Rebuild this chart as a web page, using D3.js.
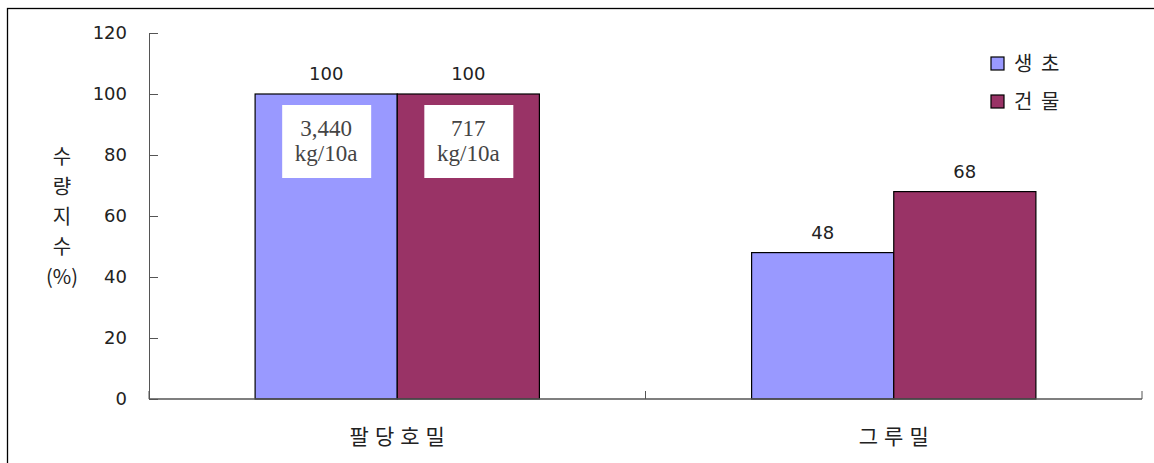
<!DOCTYPE html>
<html><head><meta charset="utf-8">
<script src="https://cdn.jsdelivr.net/npm/d3@7/dist/d3.min.js"></script>
<style>body{margin:0;background:#fff}svg{display:block}</style>
</head><body><svg id="c" width="1154" height="463"></svg>
<script>
const categories = ["팔당호밀", "그루밀"];
const seriesNames = ["생 초", "건 물"];
const freshValues = [100, 48];
const dryValues = [100, 68];
const yTicks = [0, 20, 40, 60, 80, 100, 120];
const baseNotes = [["3,440", "kg/10a"], ["717", "kg/10a"]];
const yLabelLines = ["수", "량", "지", "수", "(%)"];
const colors = ["#9999FF", "#993366"];

const svg = d3.select("#c");
const font = "'Noto Sans CJK KR', 'DejaVu Sans', sans-serif";
const numFont = "'DejaVu Sans', sans-serif";
const m = {l: 149, r: 1142, t: 33, b: 399};

svg.append("rect").attr("x", 7.5).attr("y", 8.5).attr("width", 1160).attr("height", 470)
  .attr("fill", "none").attr("stroke", "#000").attr("stroke-width", 1.3);

const y = d3.scaleLinear().domain([0, 120]).range([m.b, m.t]);
const x0 = d3.scaleBand().domain(categories).range([m.l, m.r]).padding(0);
const x1 = d3.scaleBand().domain(seriesNames).range([x0.bandwidth() * 0.2137, x0.bandwidth() * 0.7863]).padding(0);

const data = categories.map((c, i) => ({c, vals: [freshValues[i], dryValues[i]]}));

// y axis
const ya = svg.append("g").attr("transform", `translate(${m.l},0)`)
  .call(d3.axisRight(y).tickValues(yTicks).tickSize(9).tickFormat(""));
ya.select(".domain").attr("stroke", "#555");
ya.selectAll(".tick line").attr("stroke", "#555");
svg.append("g").selectAll("text").data(yTicks).join("text")
  .attr("x", 127).attr("y", d => y(d)).attr("dy", "0.36em").attr("text-anchor", "end")
  .attr("font-family", numFont).attr("font-size", 18).attr("fill", "#222").text(d => d);

// bars
const g = svg.append("g");
data.forEach(d => {
  const gx = x0(d.c);
  g.selectAll(null).data(d.vals).join("rect")
    .attr("x", (v, j) => gx + x1(seriesNames[j]))
    .attr("y", v => y(v)).attr("width", x1.bandwidth())
    .attr("height", v => m.b - y(v))
    .attr("fill", (v, j) => colors[j]).attr("stroke", "#000").attr("stroke-width", 1.2);
  g.selectAll(null).data(d.vals).join("text")
    .attr("x", (v, j) => gx + x1(seriesNames[j]) + x1.bandwidth() / 2)
    .attr("y", v => y(v) - 14).attr("text-anchor", "middle")
    .attr("font-family", numFont).attr("font-size", 18).attr("fill", "#222").text(v => v);
});

// notes in first group
baseNotes.forEach((lines, j) => {
  const cx = x0(categories[0]) + x1(seriesNames[j]) + x1.bandwidth() / 2;
  svg.append("rect").attr("x", cx - 44).attr("y", y(100) + 11).attr("width", 89).attr("height", 73).attr("fill", "#fff");
  lines.forEach((t, k) => {
    svg.append("text").attr("x", cx).attr("y", y(100) + 42 + k * 25).attr("text-anchor", "middle")
      .attr("font-family", "'Liberation Serif', serif").attr("font-size", 23).attr("fill", "#444").text(t);
  });
});

// x axis
svg.append("line").attr("x1", m.l).attr("x2", m.r).attr("y1", m.b).attr("y2", m.b).attr("stroke", "#555").attr("stroke-width", 1.3);
svg.append("g").selectAll("line").data([...categories.map(c => x0(c)), m.r]).join("line")
  .attr("x1", d => d).attr("x2", d => d).attr("y1", m.b).attr("y2", m.b - 8).attr("stroke", "#555");
svg.append("g").selectAll("text").data(categories).join("text")
  .attr("x", d => x0(d) + x0.bandwidth() / 2 + 3).attr("y", 444).attr("text-anchor", "middle")
  .attr("font-family", font).attr("font-size", 21).attr("letter-spacing", "6px").attr("fill", "#222").text(d => d);

// y label
svg.append("g").selectAll("text").data(yLabelLines).join("text")
  .attr("x", 62).attr("y", (d, i) => 164 + i * 30).attr("text-anchor", "middle")
  .attr("font-family", font).attr("font-size", 20).attr("fill", "#222").text(d => d);

// legend
const lg = svg.append("g");
seriesNames.forEach((s, i) => {
  lg.append("rect").attr("x", 991).attr("y", 57 + i * 38).attr("width", 13).attr("height", 13)
    .attr("fill", colors[i]).attr("stroke", "#000").attr("stroke-width", 1.2);
  lg.append("text").attr("x", 1014).attr("y", 64 + i * 38).attr("dy", "0.36em")
    .attr("font-family", font).attr("font-size", 20).attr("letter-spacing", "2px").attr("fill", "#222").text(s);
});
</script></body></html>
